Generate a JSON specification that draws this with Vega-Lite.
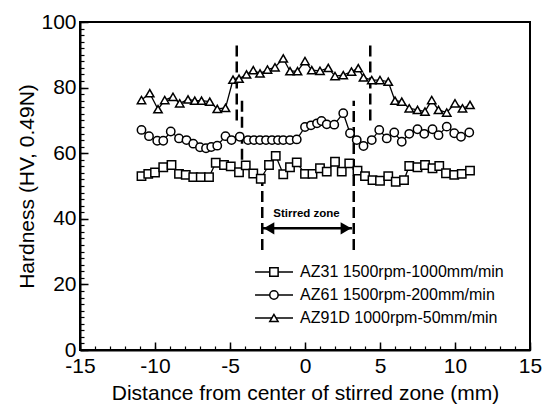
{
  "$schema": "https://vega.github.io/schema/vega-lite/v6.json",
  "width": 450,
  "height": 328,
  "autosize": "none",
  "padding": {"left": 80, "top": 22, "right": 22, "bottom": 60},
  "background": "white",
  "config": {
    "view": {"stroke": "black", "strokeWidth": 2},
    "font": "Liberation Sans",
    "axis": {"domainColor": "black", "domainWidth": 2, "tickColor": "black", "labelColor": "black", "titleColor": "black", "grid": false, "labelFont": "Liberation Sans", "titleFont": "Liberation Sans", "titleFontWeight": "normal", "labelFlush": false, "labelOverlap": false}
  },
  "datasets": {
    "hardness": [
      {"series": "AZ31 1500rpm-1000mm/min", "distance": -10.9, "hardness": 53.0},
      {"series": "AZ31 1500rpm-1000mm/min", "distance": -10.45, "hardness": 53.7},
      {"series": "AZ31 1500rpm-1000mm/min", "distance": -10.0, "hardness": 54.1},
      {"series": "AZ31 1500rpm-1000mm/min", "distance": -9.45, "hardness": 55.7},
      {"series": "AZ31 1500rpm-1000mm/min", "distance": -8.9, "hardness": 56.4},
      {"series": "AZ31 1500rpm-1000mm/min", "distance": -8.4, "hardness": 53.7},
      {"series": "AZ31 1500rpm-1000mm/min", "distance": -7.95, "hardness": 53.4},
      {"series": "AZ31 1500rpm-1000mm/min", "distance": -7.45, "hardness": 52.7},
      {"series": "AZ31 1500rpm-1000mm/min", "distance": -6.95, "hardness": 52.7},
      {"series": "AZ31 1500rpm-1000mm/min", "distance": -6.4, "hardness": 52.7},
      {"series": "AZ31 1500rpm-1000mm/min", "distance": -5.95, "hardness": 57.1},
      {"series": "AZ31 1500rpm-1000mm/min", "distance": -5.4, "hardness": 56.4},
      {"series": "AZ31 1500rpm-1000mm/min", "distance": -4.95, "hardness": 56.0},
      {"series": "AZ31 1500rpm-1000mm/min", "distance": -4.4, "hardness": 54.2},
      {"series": "AZ31 1500rpm-1000mm/min", "distance": -3.95, "hardness": 56.3},
      {"series": "AZ31 1500rpm-1000mm/min", "distance": -3.45, "hardness": 53.8},
      {"series": "AZ31 1500rpm-1000mm/min", "distance": -2.95, "hardness": 52.2},
      {"series": "AZ31 1500rpm-1000mm/min", "distance": -2.4, "hardness": 56.4},
      {"series": "AZ31 1500rpm-1000mm/min", "distance": -1.95, "hardness": 59.2},
      {"series": "AZ31 1500rpm-1000mm/min", "distance": -1.45, "hardness": 53.6},
      {"series": "AZ31 1500rpm-1000mm/min", "distance": -1.0, "hardness": 55.7},
      {"series": "AZ31 1500rpm-1000mm/min", "distance": -0.55, "hardness": 57.2},
      {"series": "AZ31 1500rpm-1000mm/min", "distance": 0.0, "hardness": 53.7},
      {"series": "AZ31 1500rpm-1000mm/min", "distance": 0.5, "hardness": 53.7},
      {"series": "AZ31 1500rpm-1000mm/min", "distance": 1.0, "hardness": 55.4},
      {"series": "AZ31 1500rpm-1000mm/min", "distance": 1.45, "hardness": 54.4},
      {"series": "AZ31 1500rpm-1000mm/min", "distance": 2.0, "hardness": 57.4},
      {"series": "AZ31 1500rpm-1000mm/min", "distance": 2.45, "hardness": 54.4},
      {"series": "AZ31 1500rpm-1000mm/min", "distance": 2.95, "hardness": 56.9},
      {"series": "AZ31 1500rpm-1000mm/min", "distance": 3.5, "hardness": 54.7},
      {"series": "AZ31 1500rpm-1000mm/min", "distance": 4.0, "hardness": 53.0},
      {"series": "AZ31 1500rpm-1000mm/min", "distance": 4.5, "hardness": 51.8},
      {"series": "AZ31 1500rpm-1000mm/min", "distance": 5.0, "hardness": 51.6},
      {"series": "AZ31 1500rpm-1000mm/min", "distance": 5.55, "hardness": 53.0},
      {"series": "AZ31 1500rpm-1000mm/min", "distance": 6.05, "hardness": 51.3},
      {"series": "AZ31 1500rpm-1000mm/min", "distance": 6.6, "hardness": 51.8},
      {"series": "AZ31 1500rpm-1000mm/min", "distance": 6.95, "hardness": 56.1},
      {"series": "AZ31 1500rpm-1000mm/min", "distance": 7.5, "hardness": 55.7},
      {"series": "AZ31 1500rpm-1000mm/min", "distance": 8.0, "hardness": 56.4},
      {"series": "AZ31 1500rpm-1000mm/min", "distance": 8.5, "hardness": 55.4},
      {"series": "AZ31 1500rpm-1000mm/min", "distance": 8.95, "hardness": 56.1},
      {"series": "AZ31 1500rpm-1000mm/min", "distance": 9.4, "hardness": 53.9},
      {"series": "AZ31 1500rpm-1000mm/min", "distance": 9.95, "hardness": 53.4},
      {"series": "AZ31 1500rpm-1000mm/min", "distance": 10.45, "hardness": 53.7},
      {"series": "AZ31 1500rpm-1000mm/min", "distance": 11.0, "hardness": 54.7},
      {"series": "AZ61 1500rpm-200mm/min", "distance": -10.9, "hardness": 67.1},
      {"series": "AZ61 1500rpm-200mm/min", "distance": -10.4, "hardness": 65.2},
      {"series": "AZ61 1500rpm-200mm/min", "distance": -9.85, "hardness": 63.8},
      {"series": "AZ61 1500rpm-200mm/min", "distance": -9.45, "hardness": 63.8},
      {"series": "AZ61 1500rpm-200mm/min", "distance": -8.95, "hardness": 66.6},
      {"series": "AZ61 1500rpm-200mm/min", "distance": -8.4, "hardness": 64.5},
      {"series": "AZ61 1500rpm-200mm/min", "distance": -7.9, "hardness": 64.0},
      {"series": "AZ61 1500rpm-200mm/min", "distance": -7.45, "hardness": 62.9},
      {"series": "AZ61 1500rpm-200mm/min", "distance": -7.0, "hardness": 61.8},
      {"series": "AZ61 1500rpm-200mm/min", "distance": -6.6, "hardness": 61.5},
      {"series": "AZ61 1500rpm-200mm/min", "distance": -6.25, "hardness": 61.9},
      {"series": "AZ61 1500rpm-200mm/min", "distance": -5.85, "hardness": 62.3},
      {"series": "AZ61 1500rpm-200mm/min", "distance": -5.3, "hardness": 65.2},
      {"series": "AZ61 1500rpm-200mm/min", "distance": -4.9, "hardness": 64.0},
      {"series": "AZ61 1500rpm-200mm/min", "distance": -4.35, "hardness": 65.0},
      {"series": "AZ61 1500rpm-200mm/min", "distance": -3.8, "hardness": 64.0},
      {"series": "AZ61 1500rpm-200mm/min", "distance": -3.4, "hardness": 64.0},
      {"series": "AZ61 1500rpm-200mm/min", "distance": -3.0, "hardness": 64.0},
      {"series": "AZ61 1500rpm-200mm/min", "distance": -2.6, "hardness": 64.0},
      {"series": "AZ61 1500rpm-200mm/min", "distance": -2.2, "hardness": 64.0},
      {"series": "AZ61 1500rpm-200mm/min", "distance": -1.8, "hardness": 64.0},
      {"series": "AZ61 1500rpm-200mm/min", "distance": -1.45, "hardness": 64.0},
      {"series": "AZ61 1500rpm-200mm/min", "distance": -1.0, "hardness": 64.0},
      {"series": "AZ61 1500rpm-200mm/min", "distance": -0.55, "hardness": 64.2},
      {"series": "AZ61 1500rpm-200mm/min", "distance": 0.0, "hardness": 68.0},
      {"series": "AZ61 1500rpm-200mm/min", "distance": 0.4, "hardness": 68.5},
      {"series": "AZ61 1500rpm-200mm/min", "distance": 0.8, "hardness": 69.1},
      {"series": "AZ61 1500rpm-200mm/min", "distance": 1.1, "hardness": 69.8},
      {"series": "AZ61 1500rpm-200mm/min", "distance": 1.45, "hardness": 68.8},
      {"series": "AZ61 1500rpm-200mm/min", "distance": 1.95, "hardness": 68.7},
      {"series": "AZ61 1500rpm-200mm/min", "distance": 2.55, "hardness": 72.2},
      {"series": "AZ61 1500rpm-200mm/min", "distance": 3.0, "hardness": 66.1},
      {"series": "AZ61 1500rpm-200mm/min", "distance": 3.45, "hardness": 64.0},
      {"series": "AZ61 1500rpm-200mm/min", "distance": 3.9, "hardness": 62.2},
      {"series": "AZ61 1500rpm-200mm/min", "distance": 4.45, "hardness": 64.0},
      {"series": "AZ61 1500rpm-200mm/min", "distance": 4.95, "hardness": 67.1},
      {"series": "AZ61 1500rpm-200mm/min", "distance": 5.45, "hardness": 64.5},
      {"series": "AZ61 1500rpm-200mm/min", "distance": 5.95, "hardness": 66.3},
      {"series": "AZ61 1500rpm-200mm/min", "distance": 6.45, "hardness": 63.5},
      {"series": "AZ61 1500rpm-200mm/min", "distance": 6.95, "hardness": 65.9},
      {"series": "AZ61 1500rpm-200mm/min", "distance": 7.5, "hardness": 67.3},
      {"series": "AZ61 1500rpm-200mm/min", "distance": 7.95, "hardness": 65.9},
      {"series": "AZ61 1500rpm-200mm/min", "distance": 8.5, "hardness": 67.3},
      {"series": "AZ61 1500rpm-200mm/min", "distance": 8.9, "hardness": 65.5},
      {"series": "AZ61 1500rpm-200mm/min", "distance": 9.45, "hardness": 68.1},
      {"series": "AZ61 1500rpm-200mm/min", "distance": 9.95, "hardness": 66.1},
      {"series": "AZ61 1500rpm-200mm/min", "distance": 10.4, "hardness": 65.0},
      {"series": "AZ61 1500rpm-200mm/min", "distance": 10.95, "hardness": 66.3},
      {"series": "AZ91D 1000rpm-50mm/min", "distance": -10.9, "hardness": 76.2},
      {"series": "AZ91D 1000rpm-50mm/min", "distance": -10.35, "hardness": 78.3},
      {"series": "AZ91D 1000rpm-50mm/min", "distance": -9.8, "hardness": 73.4},
      {"series": "AZ91D 1000rpm-50mm/min", "distance": -9.35, "hardness": 76.2},
      {"series": "AZ91D 1000rpm-50mm/min", "distance": -8.8, "hardness": 77.2},
      {"series": "AZ91D 1000rpm-50mm/min", "distance": -8.35, "hardness": 75.2},
      {"series": "AZ91D 1000rpm-50mm/min", "distance": -7.8, "hardness": 76.4},
      {"series": "AZ91D 1000rpm-50mm/min", "distance": -7.35, "hardness": 76.0},
      {"series": "AZ91D 1000rpm-50mm/min", "distance": -6.9, "hardness": 76.0},
      {"series": "AZ91D 1000rpm-50mm/min", "distance": -6.35, "hardness": 75.7},
      {"series": "AZ91D 1000rpm-50mm/min", "distance": -5.85, "hardness": 73.5},
      {"series": "AZ91D 1000rpm-50mm/min", "distance": -5.3, "hardness": 73.8},
      {"series": "AZ91D 1000rpm-50mm/min", "distance": -4.8, "hardness": 82.4},
      {"series": "AZ91D 1000rpm-50mm/min", "distance": -4.4, "hardness": 82.7},
      {"series": "AZ91D 1000rpm-50mm/min", "distance": -3.9, "hardness": 84.0},
      {"series": "AZ91D 1000rpm-50mm/min", "distance": -3.45, "hardness": 85.3},
      {"series": "AZ91D 1000rpm-50mm/min", "distance": -3.0, "hardness": 84.3},
      {"series": "AZ91D 1000rpm-50mm/min", "distance": -2.5, "hardness": 85.5},
      {"series": "AZ91D 1000rpm-50mm/min", "distance": -2.0, "hardness": 86.2},
      {"series": "AZ91D 1000rpm-50mm/min", "distance": -1.45, "hardness": 88.9},
      {"series": "AZ91D 1000rpm-50mm/min", "distance": -1.0, "hardness": 85.0},
      {"series": "AZ91D 1000rpm-50mm/min", "distance": -0.5, "hardness": 85.0},
      {"series": "AZ91D 1000rpm-50mm/min", "distance": 0.0, "hardness": 88.1},
      {"series": "AZ91D 1000rpm-50mm/min", "distance": 0.45, "hardness": 85.3},
      {"series": "AZ91D 1000rpm-50mm/min", "distance": 1.0, "hardness": 85.1},
      {"series": "AZ91D 1000rpm-50mm/min", "distance": 1.55, "hardness": 86.0},
      {"series": "AZ91D 1000rpm-50mm/min", "distance": 2.0, "hardness": 83.5},
      {"series": "AZ91D 1000rpm-50mm/min", "distance": 2.55, "hardness": 83.8},
      {"series": "AZ91D 1000rpm-50mm/min", "distance": 3.1, "hardness": 84.9},
      {"series": "AZ91D 1000rpm-50mm/min", "distance": 3.55, "hardness": 85.9},
      {"series": "AZ91D 1000rpm-50mm/min", "distance": 3.9, "hardness": 83.1},
      {"series": "AZ91D 1000rpm-50mm/min", "distance": 4.45, "hardness": 82.3},
      {"series": "AZ91D 1000rpm-50mm/min", "distance": 5.0, "hardness": 82.3},
      {"series": "AZ91D 1000rpm-50mm/min", "distance": 5.55, "hardness": 81.8},
      {"series": "AZ91D 1000rpm-50mm/min", "distance": 6.0, "hardness": 76.0},
      {"series": "AZ91D 1000rpm-50mm/min", "distance": 6.45, "hardness": 75.7},
      {"series": "AZ91D 1000rpm-50mm/min", "distance": 6.95, "hardness": 73.7},
      {"series": "AZ91D 1000rpm-50mm/min", "distance": 7.5, "hardness": 73.2},
      {"series": "AZ91D 1000rpm-50mm/min", "distance": 8.0, "hardness": 72.7},
      {"series": "AZ91D 1000rpm-50mm/min", "distance": 8.45, "hardness": 76.2},
      {"series": "AZ91D 1000rpm-50mm/min", "distance": 8.9, "hardness": 73.2},
      {"series": "AZ91D 1000rpm-50mm/min", "distance": 9.45, "hardness": 72.4},
      {"series": "AZ91D 1000rpm-50mm/min", "distance": 10.0, "hardness": 75.2},
      {"series": "AZ91D 1000rpm-50mm/min", "distance": 10.5, "hardness": 73.7},
      {"series": "AZ91D 1000rpm-50mm/min", "distance": 11.0, "hardness": 74.7}
    ],
    "zones": [
      {"at": -4.55, "low": 70.0, "high": 93.0},
      {"at": 4.35, "low": 70.0, "high": 93.0},
      {"at": -4.2, "low": 58.0, "high": 76.0},
      {"at": -2.85, "low": 30.5, "high": 52.7},
      {"at": 3.25, "low": 30.5, "high": 76.0}
    ],
    "arrow": [
      {"from": -2.8, "to": 3.13, "level": 37.1}
    ],
    "note": [
      {"distance": 0.1, "hardness": 41.6, "text": "Stirred zone"}
    ],
    "key": [
      {"series": "AZ31 1500rpm-1000mm/min"},
      {"series": "AZ61 1500rpm-200mm/min"},
      {"series": "AZ91D 1000rpm-50mm/min"}
    ]
  },
  "resolve": {
    "scale": {"y": "independent"},
    "axis": {"x": "independent", "y": "independent"}
  },
  "layer": [
    {
      "data": {"name": "zones"},
      "mark": {"type": "rule", "color": "black", "strokeWidth": 2.5, "strokeDash": [11, 5]},
      "encoding": {
        "x": {"field": "at", "type": "quantitative", "scale": {"domain": [-15, 15], "nice": false, "zero": false},
              "axis": {"orient": "bottom", "values": [-15,-14,-13,-12,-11,-10,-9,-8,-7,-6,-5,-4,-3,-2,-1,0,1,2,3,4,5,6,7,8,9,10,11,12,13,14,15], "labels": false, "domain": false, "tickSize": -4, "tickWidth": 1.2, "title": null}},
        "y": {"field": "low", "type": "quantitative", "scale": {"domain": [0, 100], "nice": false, "zero": false},
              "axis": {"orient": "left", "values": [0,2,4,6,8,10,12,14,16,18,20,22,24,26,28,30,32,34,36,38,40,42,44,46,48,50,52,54,56,58,60,62,64,66,68,70,72,74,76,78,80,82,84,86,88,90,92,94,96,98,100], "labels": false, "domain": false, "tickSize": -4, "tickWidth": 1.2, "title": null}},
        "y2": {"field": "high"}
      }
    },
    {
      "data": {"name": "hardness"},
      "mark": {"type": "line", "color": "black", "strokeWidth": 1.3},
      "encoding": {
        "x": {"field": "distance", "type": "quantitative",
              "axis": {"orient": "bottom", "values": [-15, -10, -5, 0, 5, 10, 15], "labelExpr": "toString(datum.value)", "tickSize": -8, "tickWidth": 1.5, "labelPadding": 13, "labelFontSize": 21, "title": "Distance from center of stirred zone (mm)", "titleFontSize": 21, "titlePadding": 6}},
        "y": {"field": "hardness", "type": "quantitative", "scale": {"domain": [0, 100], "nice": false, "zero": false},
              "axis": {"orient": "left", "values": [0, 20, 40, 60, 80, 100], "tickSize": -8, "tickWidth": 1.5, "labelPadding": 12, "labelFontSize": 21, "title": "Hardness (HV, 0.49N)", "titleFontSize": 21, "titlePadding": 3}},
        "detail": {"field": "series", "type": "nominal"}
      }
    },
    {
      "data": {"name": "hardness"},
      "mark": {"type": "point", "filled": true, "fill": "white", "stroke": "black", "strokeWidth": 1.5, "size": 70, "opacity": 1},
      "encoding": {
        "x": {"field": "distance", "type": "quantitative", "axis": null},
        "y": {"field": "hardness", "type": "quantitative", "scale": {"domain": [0, 100], "nice": false, "zero": false}, "axis": null},
        "shape": {"field": "series", "type": "nominal",
                  "scale": {"domain": ["AZ31 1500rpm-1000mm/min", "AZ61 1500rpm-200mm/min", "AZ91D 1000rpm-50mm/min"], "range": ["square", "circle", "triangle-up"]},
                  "legend": null}
      }
    },
    {
      "data": {"name": "arrow"},
      "mark": {"type": "rule", "color": "black", "strokeWidth": 2.5},
      "encoding": {
        "x": {"field": "from", "type": "quantitative", "axis": null},
        "x2": {"field": "to"},
        "y": {"field": "level", "type": "quantitative", "scale": {"domain": [0, 100], "nice": false, "zero": false}, "axis": null}
      }
    },
    {
      "data": {"name": "arrow"},
      "mark": {"type": "point", "shape": "triangle-left", "filled": true, "color": "black", "size": 150, "xOffset": 6, "opacity": 1},
      "encoding": {
        "x": {"field": "from", "type": "quantitative", "axis": null},
        "y": {"field": "level", "type": "quantitative", "scale": {"domain": [0, 100], "nice": false, "zero": false}, "axis": null}
      }
    },
    {
      "data": {"name": "arrow"},
      "mark": {"type": "point", "shape": "triangle-right", "filled": true, "color": "black", "size": 150, "xOffset": -6, "opacity": 1},
      "encoding": {
        "x": {"field": "to", "type": "quantitative", "axis": null},
        "y": {"field": "level", "type": "quantitative", "scale": {"domain": [0, 100], "nice": false, "zero": false}, "axis": null}
      }
    },
    {
      "data": {"name": "note"},
      "mark": {"type": "text", "color": "black", "fontSize": 11.5, "fontWeight": "bold", "font": "Liberation Sans", "align": "center", "baseline": "middle"},
      "encoding": {
        "x": {"field": "distance", "type": "quantitative", "axis": null},
        "y": {"field": "hardness", "type": "quantitative", "scale": {"domain": [0, 100], "nice": false, "zero": false}, "axis": null},
        "text": {"field": "text"}
      }
    },
    {
      "data": {"name": "key"},
      "mark": {"type": "rule", "color": "black", "strokeWidth": 1.3},
      "encoding": {
        "x": {"datum": -3.33, "type": "quantitative", "axis": null},
        "x2": {"datum": -0.8},
        "y": {"field": "series", "type": "nominal", "scale": {"type": "point", "domain": ["AZ31 1500rpm-1000mm/min", "AZ61 1500rpm-200mm/min", "AZ91D 1000rpm-50mm/min"], "range": [250, 296], "padding": 0}, "axis": null}
      }
    },
    {
      "data": {"name": "key"},
      "mark": {"type": "point", "filled": true, "fill": "white", "stroke": "black", "strokeWidth": 1.5, "size": 70, "opacity": 1},
      "encoding": {
        "x": {"datum": -2.07, "type": "quantitative", "axis": null},
        "y": {"field": "series", "type": "nominal", "scale": {"type": "point", "domain": ["AZ31 1500rpm-1000mm/min", "AZ61 1500rpm-200mm/min", "AZ91D 1000rpm-50mm/min"], "range": [250, 296], "padding": 0}, "axis": null},
        "shape": {"field": "series", "type": "nominal", "legend": null}
      }
    },
    {
      "data": {"name": "key"},
      "mark": {"type": "text", "color": "black", "fontSize": 16, "font": "Liberation Sans", "align": "left", "baseline": "middle"},
      "encoding": {
        "x": {"datum": -0.33, "type": "quantitative", "axis": null},
        "y": {"field": "series", "type": "nominal", "scale": {"type": "point", "domain": ["AZ31 1500rpm-1000mm/min", "AZ61 1500rpm-200mm/min", "AZ91D 1000rpm-50mm/min"], "range": [250, 296], "padding": 0}, "axis": null},
        "text": {"field": "series"}
      }
    }
  ]
}
